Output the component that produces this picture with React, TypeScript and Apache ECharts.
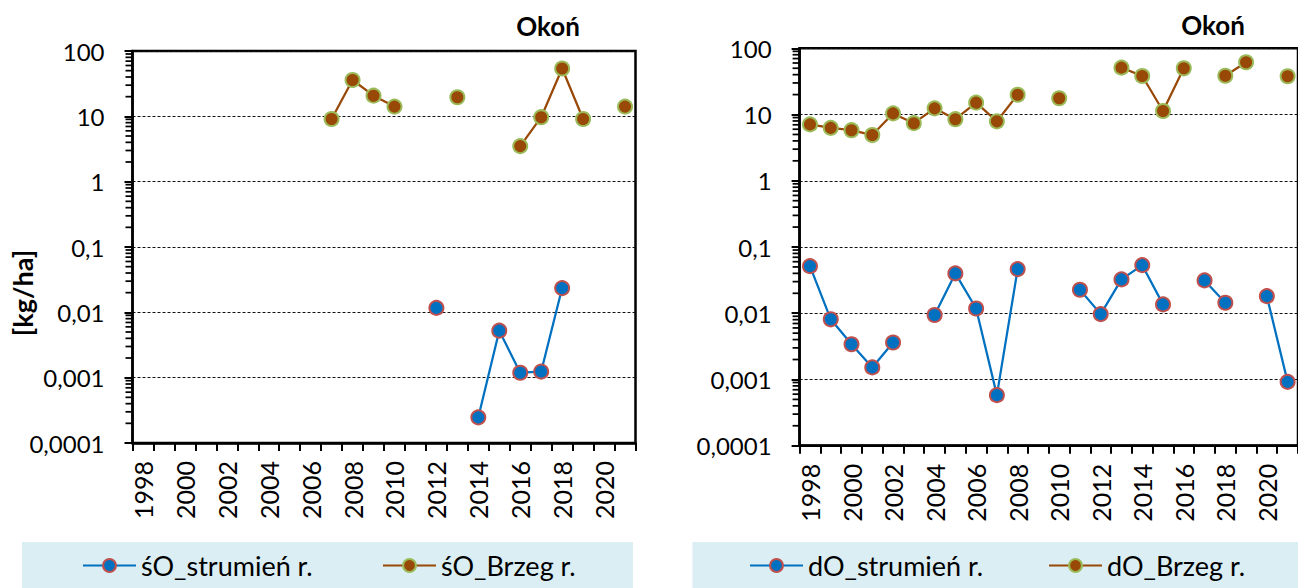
import React, { useEffect, useRef } from 'react';
import * as echarts from 'echarts';

const years = ['1998','1999','2000','2001','2002','2003','2004','2005','2006','2007','2008','2009','2010','2011','2012','2013','2014','2015','2016','2017','2018','2019','2020','2021'];

// Left panel (śO)
const soStrumien = [null,null,null,null,null,null,null,null,null,null,null,null,null,null,0.0117,null,0.000247,0.00524,0.00119,0.00124,0.0235,null,null,null];
const soBrzeg = [null,null,null,null,null,null,null,null,null,9.1,36,20.7,14.1,null,null,19.6,null,null,3.5,9.7,54,9.1,null,14.1];

// Right panel (dO)
const doStrumien = [0.0514,0.0081,0.0034,0.00152,0.00362,null,0.0094,0.0399,0.0118,0.00058,0.0464,null,null,0.0226,0.0097,0.0324,0.0532,0.0136,null,0.0313,0.0144,null,0.0181,0.00092];
const doBrzeg = [7.1,6.3,5.8,4.9,10.4,7.4,12.4,8.5,15.1,7.9,19.9,null,17.6,null,null,51,38.2,11.3,49.9,null,38.5,61.5,null,37.8];

const seriesNames = ['śO_strumień r.', 'śO_Brzeg r.', 'dO_strumień r.', 'dO_Brzeg r.'];
const titleText = 'Okoń';
const yAxisName = '[kg/ha]';
const decades = [0.0001, 0.001, 0.01, 0.1, 1, 10];
const minorMultipliers = [2, 3, 4, 5, 6, 7, 8, 9];

const FONT = 'Lato';
const BLUE = '#0070C0';
const RED = '#C0504D';
const BROWN = '#984807';
const GREEN = '#9BBB59';

function fmtLog(v: number): string {
  const e = Math.round(Math.log10(v));
  if (e >= 0) return String(Math.pow(10, e));
  return '0,' + '0'.repeat(-e - 1) + '1';
}

export default function App() {
  const ref = useRef<HTMLDivElement>(null);
  useEffect(() => {
    if (!ref.current) return;
    const chart = echarts.init(ref.current, null, { renderer: 'svg' });

    const grids = [
      { left: 132.5, top: 51, width: 503, height: 392 },
      { left: 799.6, top: 48.3, width: 501, height: 397.4 },
    ];

    const xAxis = grids.map((_, i) => ({
      type: 'category',
      gridIndex: i,
      data: years,
      boundaryGap: true,
      axisLine: { lineStyle: { color: '#000', width: 2.5 } },
      axisTick: { show: true, interval: 0, length: 8, lineStyle: { color: '#000', width: 2 } },
      axisLabel: { interval: 1, rotate: 90, margin: 18, color: '#000', fontFamily: FONT, fontSize: 25 },
      splitLine: { show: false },
    }));

    const yAxis = grids.map((_, i) => ({
      type: 'log',
      gridIndex: i,
      logBase: 10,
      min: 0.0001,
      max: 100,
      axisLine: { show: true, lineStyle: { color: '#000', width: 2.5 } },
      axisTick: { show: true, length: 8, lineStyle: { color: '#000', width: 2 } },
      axisLabel: { margin: 28, color: '#000', fontFamily: FONT, fontSize: 24, formatter: (v: number) => fmtLog(v) },
      splitLine: { show: true, lineStyle: { color: '#111', type: [3, 2], width: 1 } },
    }));

    const lineSeries = (name: string, data: (number | null)[], idx: number, lc: string, fill: string, border: string) => ({
      type: 'line',
      name,
      xAxisIndex: idx,
      yAxisIndex: idx,
      data,
      connectNulls: false,
      showSymbol: true,
      showAllSymbol: true,
      symbol: 'circle',
      symbolSize: 14,
      lineStyle: { color: lc, width: 2.25 },
      itemStyle: { color: fill, borderColor: border, borderWidth: 2 },
      z: 5,
    });

    const legendItem = (name: string, left: number) => ({
      data: [name],
      left,
      top: 552,
      padding: 0,
      itemWidth: 53,
      itemHeight: 16,
      textStyle: { color: '#000', fontFamily: FONT, fontSize: 27 },
      selectedMode: false,
      z: 10,
    });

    const baseGraphic: any[] = [
      { type: 'rect', shape: { x: 22, y: 542, width: 611, height: 50 }, style: { fill: '#DAEEF3' }, z: 0, silent: true },
      { type: 'rect', shape: { x: 692.5, y: 542, width: 610, height: 50 }, style: { fill: '#DAEEF3' }, z: 0, silent: true },
      { type: 'text', x: 548, y: 26, style: { text: titleText, fontFamily: FONT, fontWeight: 'bold', fontSize: 26, fill: '#000', textAlign: 'center', textVerticalAlign: 'middle' }, z: 10 },
      { type: 'text', x: 1213, y: 25, style: { text: titleText, fontFamily: FONT, fontWeight: 'bold', fontSize: 26, fill: '#000', textAlign: 'center', textVerticalAlign: 'middle' }, z: 10 },
      { type: 'text', x: 22, y: 293, rotation: Math.PI / 2, style: { text: yAxisName, fontFamily: FONT, fontWeight: 'bold', fontSize: 27, fill: '#000', textAlign: 'center', textVerticalAlign: 'middle' }, z: 10 },
    ];

    chart.setOption({
      animation: false,
      backgroundColor: '#fff',
      grid: grids.map((g) => ({ ...g, show: true, borderColor: '#000', borderWidth: 2.5, backgroundColor: 'transparent', containLabel: false })),
      xAxis,
      yAxis,
      legend: [
        legendItem(seriesNames[0], 82),
        legendItem(seriesNames[1], 382),
        legendItem(seriesNames[2], 749),
        legendItem(seriesNames[3], 1048),
      ],
      series: [
        lineSeries(seriesNames[0], soStrumien, 0, BLUE, BLUE, RED),
        lineSeries(seriesNames[1], soBrzeg, 0, BROWN, BROWN, GREEN),
        lineSeries(seriesNames[2], doStrumien, 1, BLUE, BLUE, RED),
        lineSeries(seriesNames[3], doBrzeg, 1, BROWN, BROWN, GREEN),
      ],
      graphic: baseGraphic,
    });

    // Minor log ticks (2..9 × decade) placed through the y-axis scale
    const minorLines: any[] = [];
    grids.forEach((g, i) => {
      decades.forEach((d) => {
        minorMultipliers.forEach((m) => {
          const y = chart.convertToPixel({ yAxisIndex: i } as any, m * d) as unknown as number;
          if (typeof y === 'number' && isFinite(y)) {
            minorLines.push({
              type: 'line',
              shape: { x1: g.left - 7, y1: y, x2: g.left, y2: y },
              style: { stroke: '#000', lineWidth: 1.75 },
              z: 10,
              silent: true,
            });
          }
        });
      });
    });
    chart.setOption({ graphic: [...baseGraphic, ...minorLines] });

    return () => chart.dispose();
  }, []);
  return <div ref={ref} style={{ position: 'fixed', left: 0, top: 0, width: 1298, height: 588 }} />;
}
